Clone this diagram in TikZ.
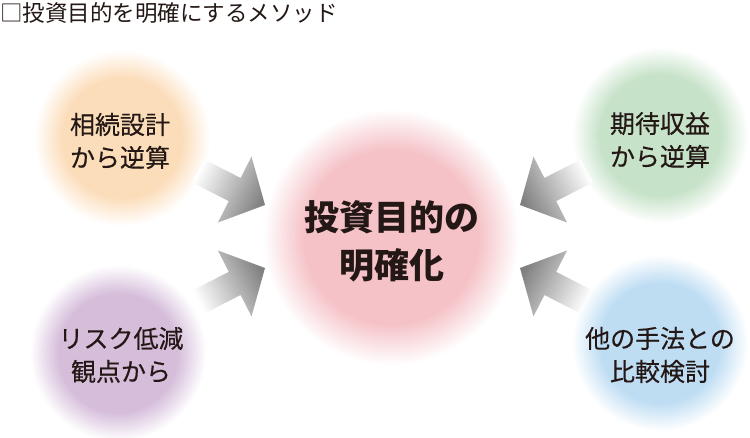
\documentclass[tikz,border=0pt]{standalone}
\usepackage{fontspec}
\setmainfont{Noto Sans CJK JP}
\newfontfamily\sidefont[FakeBold=0.35]{Noto Sans CJK JP}
\usetikzlibrary{backgrounds}

\definecolor{inkblack}{RGB}{35,24,21}
\definecolor{blobOrange}{RGB}{252,221,186}
\definecolor{blobPurple}{RGB}{214,190,219}
\definecolor{blobGreen}{RGB}{198,226,200}
\definecolor{blobBlue}{RGB}{190,221,243}
\definecolor{blobPink}{RGB}{245,194,199}
\colorlet{blobcol}{blobPink}

\pgfdeclareradialshading[blobcol]{blobshade}{\pgfpointorigin}{color(0bp)=(blobcol); color(17bp)=(blobcol); color(25bp)=(white); color(50bp)=(white)}

\begin{document}
\begin{tikzpicture}[x=1pt, y=-1pt,
	sidetext/.style={text=inkblack, align=center, font=\sidefont\fontsize{25}{33}\selectfont},
	goaltext/.style={text=inkblack, align=center, font=\bfseries\fontsize{35}{48}\selectfont},
	blob/.code={\colorlet{blobcol}{#1}\tikzset{shading=blobshade}},
	push/.style={top color=white, bottom color=black!50, shading angle=#1}]
	\useasboundingbox (0, 0) rectangle (750, 438);

	\node[anchor=base west, inner sep=0, text=inkblack, font=\fontsize{22.5}{22.5}\selectfont] (title) at (0, 21.5) {□投資目的を明確にするメソッド};

	\node[goaltext] (goal) at (392, 241) {投資目的の\\明確化};
	\node[sidetext] (design) at (120, 141) {相続設計\\から逆算};
	\node[sidetext] (risk) at (121, 355) {リスク低減\\観点から};
	\node[sidetext] (income) at (660, 140) {期待収益\\から逆算};
	\node[sidetext] (compare) at (660, 355) {他の手法との\\比較検討};

	\begin{scope}[on background layer]
		\shade[blob=blobPink] (391, 237) circle (128);
		\shade[blob=blobOrange] (122, 138) circle (88);
		\shade[blob=blobPurple] (118, 353) circle (88);
		\shade[blob=blobGreen] (660, 135) circle (88);
		\shade[blob=blobBlue] (660, 343) circle (88);
	\end{scope}

	\coordinate (tipTL) at (265, 205);
	\coordinate (tipBL) at (265, 268);
	\coordinate (tipTR) at (520, 205);
	\coordinate (tipBR) at (520, 268);

	\begin{scope}[shift={(tipTL)}, rotate=-27]
		\shade[push=63] (-75, 13) -- (-34, 13) -- (-34, 37) -- (0, 0) -- (-34, -37) -- (-34, -13) -- (-75, -13) -- cycle;
	\end{scope}
	\begin{scope}[shift={(tipBL)}, rotate=27]
		\shade[push=117] (-75, 13) -- (-34, 13) -- (-34, 37) -- (0, 0) -- (-34, -37) -- (-34, -13) -- (-75, -13) -- cycle;
	\end{scope}
	\begin{scope}[shift={(tipTR)}, rotate=207]
		\shade[push=-63] (-75, 13) -- (-34, 13) -- (-34, 37) -- (0, 0) -- (-34, -37) -- (-34, -13) -- (-75, -13) -- cycle;
	\end{scope}
	\begin{scope}[shift={(tipBR)}, rotate=153]
		\shade[push=-117] (-75, 13) -- (-34, 13) -- (-34, 37) -- (0, 0) -- (-34, -37) -- (-34, -13) -- (-75, -13) -- cycle;
	\end{scope}
\end{tikzpicture}
\end{document}
